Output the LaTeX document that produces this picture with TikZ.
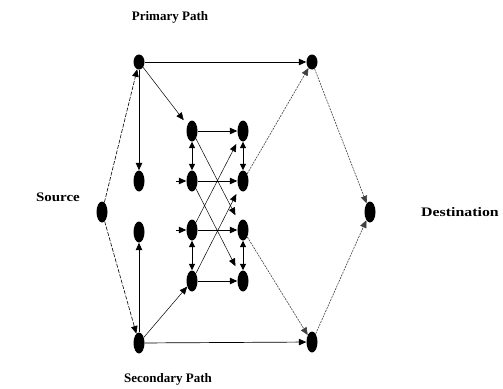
\documentclass[tikz,border=0pt]{standalone}
\usepackage{fontspec}
\setmainfont{Liberation Serif}
\usetikzlibrary{arrows.meta,shapes.geometric}
\begin{document}
\begin{tikzpicture}[x=1pt,y=-1pt,
  vtx/.style={ellipse,fill=black,inner sep=0pt,minimum width=11pt,minimum height=21pt},
  topvtx/.style={vtx,minimum height=15pt},
  arr/.style={-{Triangle[length=7.5pt,width=6.5pt]},line width=0.7pt},
  dbl/.style={{Triangle[length=6.5pt,width=6pt]}-{Triangle[length=6.5pt,width=6pt]},line width=0.7pt},
  thin arr/.style={arr,line width=0.5pt},
  dash arr/.style={arr,line width=0.6pt,dash pattern=on 4pt off 1.5pt},
  dot arr/.style={arr,line width=0.6pt,draw=black!75,dash pattern=on 2pt off 1pt},
  lbl/.style={font=\fontsize{13}{15}\selectfont\bfseries}]
\useasboundingbox (0,0) rectangle (503,388);
% labels
\node[lbl] (tprim) at (170,17) {Primary Path};
\node[lbl] (tsec) at (168,379) {Secondary Path};
\node[lbl] (tsrc) at (58,197) {\scalebox{1.15}[1]{Source}};
\node[lbl] (tdst) at (460,212) {\scalebox{1.22}[1]{Destination}};
% vertices
\node[vtx] (S) at (102,212) {};
\node[topvtx] (P1) at (139,62) {};
\node[vtx] (L1) at (139,181) {};
\node[vtx] (L2) at (139,232) {};
\node[vtx] (Q1) at (139,343) {};
\node[vtx] (A1) at (192,131) {};
\node[vtx] (A2) at (192,181) {};
\node[vtx] (A3) at (192,230) {};
\node[vtx] (A4) at (192,281) {};
\node[vtx] (B1) at (243,131) {};
\node[vtx] (B2) at (243,181) {};
\node[vtx] (B3) at (243,230) {};
\node[vtx] (B4) at (243,281) {};
\node[topvtx] (R1) at (312,62) {};
\node[vtx] (R2) at (312,342) {};
\node[vtx] (D) at (370,212) {};
\coordinate (inA2) at (176,181);
\coordinate (inA3) at (176,230);
% connectors
\draw[dash arr] (S) -- (P1);
\draw[dash arr] (S) -- (Q1);
\draw[arr] (P1) -- (R1);
\draw[arr] (Q1) -- (R2);
\draw[arr] (P1) -- (L1);
\draw[arr] (Q1) -- (L2);
\draw[thin arr,shorten >=6pt] (P1) -- (A1);
\draw[thin arr] (Q1) -- (A4);
\draw[arr] (A1) -- (B1);
\draw[arr] (A2) -- (B2);
\draw[arr] (A3) -- (B3);
\draw[arr] (A4) -- (B4);
\draw[dbl] (A1) -- (A2);
\draw[dbl] (A3) -- (A4);
\draw[dbl] (B1) -- (B2);
\draw[dbl] (B3) -- (B4);
\draw[thin arr,shorten >=8pt] (A1) -- (B3);
\draw[thin arr,shorten >=8pt] (A2) -- (B4);
\draw[thin arr,shorten >=6pt] (A3) -- (B1);
\draw[thin arr,shorten >=6pt] (A4) -- (B2);
\draw[arr] (inA2) -- (A2);
\draw[arr] (inA3) -- (A3);
\draw[dot arr] (B2) -- (R1);
\draw[dot arr] (B3) -- (R2);
\draw[dot arr] (R1) -- (D);
\draw[dot arr] (R2) -- (D);
\end{tikzpicture}
\end{document}
